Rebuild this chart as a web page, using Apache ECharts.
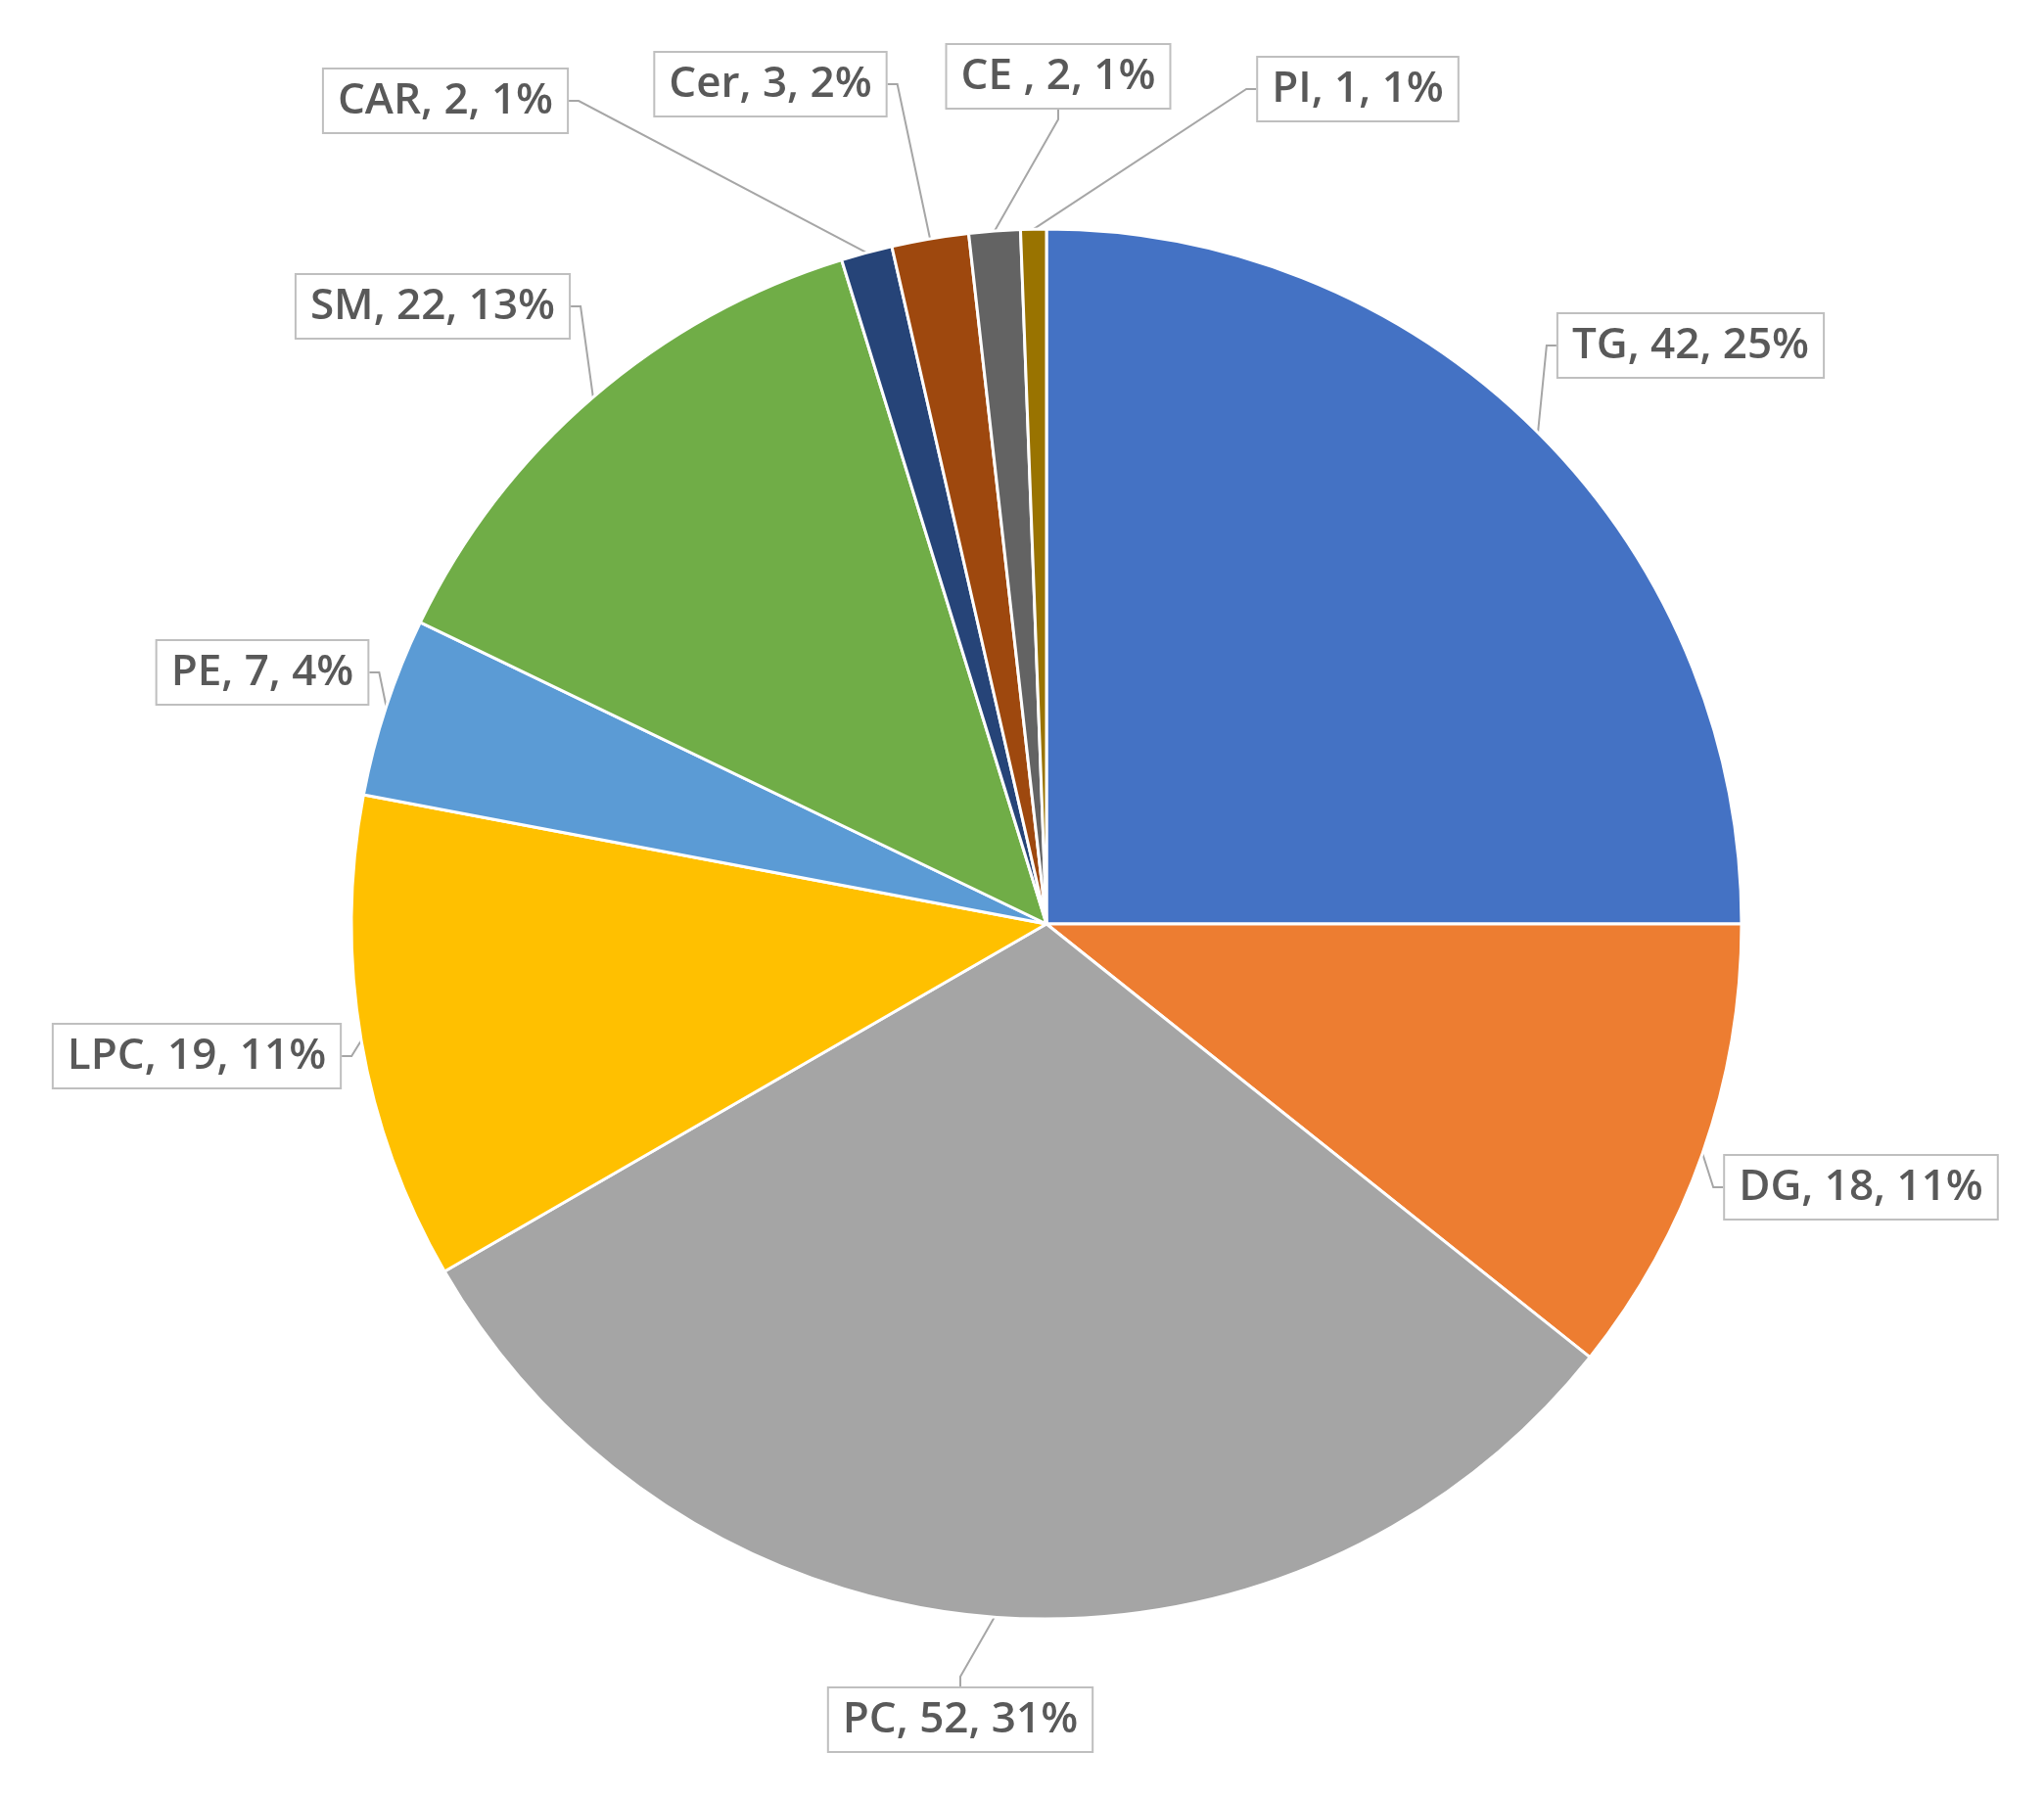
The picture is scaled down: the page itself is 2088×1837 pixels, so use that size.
<!DOCTYPE html>
<html>
<head>
<meta charset="utf-8">
<script src="https://cdn.jsdelivr.net/npm/echarts@6/dist/echarts.min.js"></script>
</head>
<body style="margin:0;background:#fff">
<div id="container" style="width:2088px;height:1837px"></div>
<script>
var names = ['TG', 'DG', 'PC', 'LPC', 'PE', 'SM', 'CAR', 'Cer', 'CE ', 'PI'];
var values = [42, 18, 52, 19, 7, 22, 2, 3, 2, 1];
var colors = ['#4472C4', '#ED7D31', '#A5A5A5', '#FFC000', '#5B9BD5', '#70AD47', '#264478', '#9E480E', '#636363', '#997300'];
// label box centres (px)
var labelPos = [[1727, 353], [1901, 1213], [981, 1757], [201, 1079], [268, 687],
                [442, 313], [455, 103], [787, 86], [1081, 78], [1387, 91]];

var total = values.reduce(function (a, b) { return a + b; }, 0);
var chart = echarts.init(document.getElementById('container'));
chart.setOption({
    animation: false,
    series: [{
        type: 'pie',
        center: [1069, 944],
        radius: [0, 710],
        startAngle: 90,
        clockwise: true,
        data: names.map(function (n, i) {
            return { name: n, value: values[i], itemStyle: { color: colors[i] } };
        }),
        itemStyle: { borderColor: '#fff', borderWidth: 3 },
        label: {
            show: true,
            formatter: function (p) {
                return p.name + ', ' + p.value + ', ' + Math.round(p.value / total * 100) + '%';
            },
            fontFamily: 'Open Sans',
            fontWeight: 600,
            fontSize: 44,
            color: '#595959',
            backgroundColor: '#fff',
            borderColor: '#bfbfbf',
            borderWidth: 2,
            padding: [10, 14]
        },
        labelLine: { show: true, length: 20, length2: 10, lineStyle: { color: '#a6a6a6', width: 2 } },
        labelLayout: function (p) {
            var pos = labelPos[p.dataIndex];
            return { x: pos[0], y: pos[1], align: 'center', verticalAlign: 'middle', moveOverlap: null };
        }
    }]
});
</script>
</body>
</html>
